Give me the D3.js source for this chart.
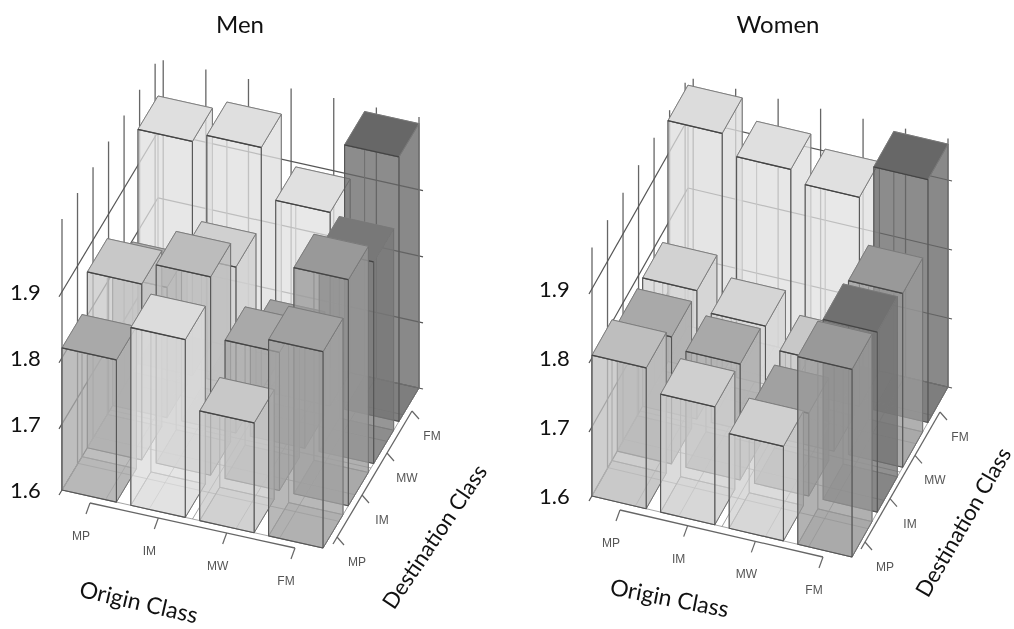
<!DOCTYPE html>
<html><head><meta charset="utf-8">
<script src="https://cdnjs.cloudflare.com/ajax/libs/d3/7.8.5/d3.min.js"></script>
<style>
html,body{margin:0;padding:0;background:#fff}
svg{display:block}
text{font-family:Lato,"Open Sans",sans-serif;fill:#111}
.cat{font-family:"Liberation Sans",Arial,sans-serif;font-size:12px;fill:#555}
</style></head><body>
<svg id="c" width="1014" height="629"></svg>
<script>
const origins = ["MP","IM","MW","FM"];
const destinations = ["MP","IM","MW","FM"];
const zTicks = [1.6,1.7,1.8,1.9];

// rows: destination MP, IM, MW, FM; columns: origin MP, IM, MW, FM
const menValues = [
  [1.815,1.869,1.766,1.897],
  [1.866,1.900,1.809,1.942],
  [1.797,1.851,1.756,1.905],
  [1.954,1.968,1.893,2.000]
];
const womenValues = [
  [1.804,1.771,1.737,1.872],
  [1.784,1.768,1.720,1.861],
  [1.786,1.758,1.727,1.852],
  [1.949,1.920,1.903,1.952]
];
// second encoded variable, shown as grey tone (0 dark – 1 light)
const menTones = [
  [0.55,0.94,0.79,0.49],
  [0.79,0.70,0.55,0.43],
  [0.60,0.85,0.49,0.18],
  [0.96,0.96,0.97,0.05]
];
const womenTones = [
  [0.71,0.84,0.84,0.43],
  [0.55,0.55,0.49,0.12],
  [0.86,0.89,0.79,0.43],
  [0.94,0.96,0.97,0.05]
];

const tone = d3.scaleLinear().domain([0,1]).range(["#606060","#e4e4e4"]);
const svg = d3.select("#c");

function panel(cfg){
  const g = svg.append("g");
  const {L,F,R,zPx,zTop} = cfg;
  const B = [L[0]+R[0]-F[0], L[1]+R[1]-F[1]];
  const band = d3.scaleBand().range([0,1]).paddingInner(0.21).paddingOuter(0);
  const uS = band.copy().domain(origins), vS = band.copy().domain(destinations);
  const z = d3.scaleLinear().domain([1.6,2.0]).range([0,-zPx*0.4]);
  const P = (a,b,v)=>[L[0]+a*(F[0]-L[0])+b*(B[0]-L[0]), L[1]+a*(F[1]-L[1])+b*(B[1]-L[1])+z(v)];
  const line = d3.line();
  const seg=(a,b,col,w,op)=>g.append("path").attr("d",line([a,b])).attr("fill","none")
      .attr("stroke",col).attr("stroke-width",w).attr("stroke-opacity",op===undefined?1:op);

  // floor grid
  const six = d3.range(7).map(d=>d/6);
  six.forEach(t=>{
    seg(P(t,0,1.6),P(t,1,1.6),"#777",0.9,0.75);
    seg(P(0,t,1.6),P(1,t,1.6),"#777",0.9,0.75);
  });
  // left wall verticals
  const wallA = d3.scaleLinear().domain([0,1]).range([0,cfg.leftEnd]);
  six.forEach(t=>seg(P(0,wallA(t),1.6),P(0,wallA(t),zTop),"#666",1.3));
  // back wall verticals
  const wallB = d3.scaleLinear().domain([0,1]).range([cfg.backStart,1]);
  six.forEach(t=>seg(P(wallB(t),1,1.6),P(wallB(t),1,zTop),"#666",1.3));
  // horizontal grid on walls
  zTicks.forEach(v=>{
    const a=P(0,0,v), c=P(0,1,v), d=P(1,1,v);
    seg([a[0]-3,a[1]+5],c,"#555",1.2);
    seg(c,[d[0]+4,d[1]+1],"#555",1.2);
  });

  // bars, back to front
  const bars=[];
  [3,2,1,0].forEach(j=>[0,1,2,3].forEach(i=>bars.push({i,j,v:cfg.values[j][i],t:cfg.tones[j][i]})));
  const poly = d=>line(d)+"Z";
  const gb = g.selectAll("g.bar").data(bars).join("g").attr("class","bar");
  gb.each(function(d){
    const s=d3.select(this);
    const a0=uS(origins[d.i]), a1=a0+uS.bandwidth(), b0=vS(destinations[d.j]), b1=b0+vS.bandwidth();
    const col=tone(d.t);
    const face=(pts,op,ed,w)=>s.append("path").attr("d",poly(pts)).attr("fill",col).attr("fill-opacity",op)
      .attr("stroke",ed).attr("stroke-width",w).attr("stroke-linejoin","round");
    const lo=1.6, hi=d.v;
    // floor and hidden faces
    face([P(a0,b0,lo),P(a1,b0,lo),P(a1,b1,lo),P(a0,b1,lo)],0.4,"#777",0.8);
    face([P(a0,b1,lo),P(a1,b1,lo),P(a1,b1,hi),P(a0,b1,hi)],0.12,"#888",0.8);
    face([P(a0,b0,lo),P(a0,b1,lo),P(a0,b1,hi),P(a0,b0,hi)],0.12,"#888",0.8);
    // visible faces
    face([P(a1,b0,lo),P(a1,b1,lo),P(a1,b1,hi),P(a1,b0,hi)],0.75,"#6e6e6e",0.9);
    face([P(a0,b0,lo),P(a1,b0,lo),P(a1,b0,hi),P(a0,b0,hi)],0.72,"#555",1.1);
    face([P(a0,b0,hi),P(a1,b0,hi),P(a1,b1,hi),P(a0,b1,hi)],1,"#787878",0.9);
    s.append("path").attr("d",line([P(a0,b0,hi),P(a1,b0,hi)])).attr("stroke","#444").attr("stroke-width",1.3).attr("fill","none");
  });

  // origin axis
  const ox=d3.scalePoint().domain(origins).range([0,1]);
  const oPt=t=>[cfg.oAxis[0][0]+t*(cfg.oAxis[1][0]-cfg.oAxis[0][0]),cfg.oAxis[0][1]+t*(cfg.oAxis[1][1]-cfg.oAxis[0][1])];
  seg(oPt(0),oPt(1),"#666",1.3);
  origins.forEach(o=>{
    const p=oPt(ox(o));
    seg(p,[p[0]-4,p[1]+11],"#666",1.2);
    g.append("text").attr("class","cat").attr("text-anchor","middle")
     .attr("x",p[0]-9).attr("y",p[1]+37).text(o);
  });
  // destination axis
  const dx=d3.scalePoint().domain(destinations).range([0,1]);
  const dPt=t=>[cfg.dAxis[0][0]+t*(cfg.dAxis[1][0]-cfg.dAxis[0][0]),cfg.dAxis[0][1]+t*(cfg.dAxis[1][1]-cfg.dAxis[0][1])];
  seg([dPt(0)[0]-4,dPt(0)[1]+7],dPt(1),"#666",1.3);
  destinations.forEach(o=>{
    const p=dPt(dx(o));
    seg(p,[p[0]+7,p[1]+8],"#666",1.2);
    g.append("text").attr("class","cat").attr("text-anchor","middle")
     .attr("x",p[0]+20).attr("y",p[1]+29).text(o);
  });
  // tick labels
  zTicks.forEach(v=>{
    g.append("text").attr("x",cfg.tickX).attr("y",L[1]+z(v)+8).attr("font-size",22).text(v.toFixed(1));
  });
  const lab=(t,x,y,rot,fs)=>g.append("text").attr("text-anchor","middle").attr("font-size",fs)
      .attr("transform",`translate(${x},${y}) rotate(${rot})`).text(t);
  lab(cfg.title,cfg.titleX,33,0,24);
  lab("Origin Class",cfg.oLab[0],cfg.oLab[1],cfg.oLab[2],23);
  lab("Destination Class",cfg.dLab[0],cfg.dLab[1],cfg.dLab[2],22);
}

panel({title:"Men",titleX:240,L:[62,490],F:[323,548],R:[419,388],zPx:661,zTop:2.01,
  values:menValues,tones:menTones,leftEnd:0.97,backStart:0.02,tickX:10,
  oAxis:[[90,503],[295,548]],dAxis:[[337,537],[412,411]],
  oLab:[137,610,13],dLab:[441,541,-56]});
panel({title:"Women",titleX:778,L:[592,496],F:[852,557],R:[948,387],zPx:690,zTop:1.96,
  values:womenValues,tones:womenTones,leftEnd:0.97,backStart:0.02,tickX:539,
  oAxis:[[620,510],[823,557]],dAxis:[[865,542],[940,412]],
  oLab:[668,606,11],dLab:[970,526,-60]});
svg.style("filter","blur(0.35px)");
</script>
</body></html>
